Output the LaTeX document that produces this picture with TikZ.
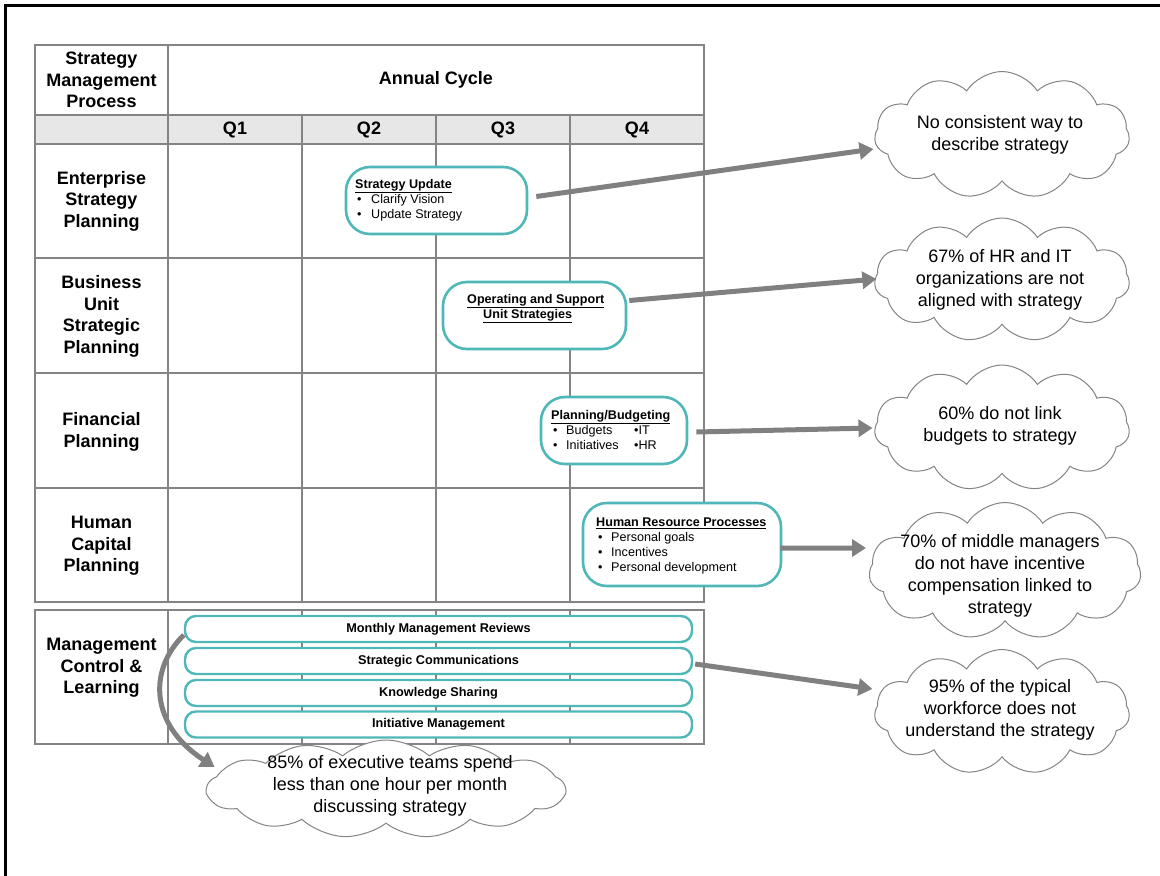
\documentclass[tikz,border=0pt]{standalone}
\usepackage{fontspec}
\setmainfont{Liberation Sans}
\usetikzlibrary{shapes.symbols,arrows.meta,calc}
\definecolor{rulegray}{RGB}{132,132,132}
\definecolor{bandgray}{RGB}{231,231,231}
\definecolor{boxteal}{RGB}{80,183,185}
\definecolor{arrowgray}{RGB}{128,128,128}
\begin{document}
\begin{tikzpicture}[x=1pt,y=-1pt,
  grid/.style={draw=rulegray,line width=1.6pt},
  thickgrid/.style={draw=rulegray,line width=2.6pt},
  hdr/.style={font=\fontsize{18}{21.5}\selectfont\bfseries,align=center,inner sep=0pt},
  phase/.style={draw=boxteal,line width=2.6pt,fill=white,rounded corners=24pt,inner sep=0pt},
  phasetext/.style={font=\fontsize{12.6}{15}\selectfont,align=left,inner sep=0pt},
  bar/.style={draw=boxteal,line width=2.4pt,fill=white,rounded corners=11pt,minimum width=507pt,minimum height=26pt,inner sep=0pt,font=\fontsize{12.7}{15}\selectfont\bfseries},
  cloudbox/.style={cloud,cloud puffs=11,cloud puff arc=115,cloud ignores aspect,draw=rulegray,line width=1pt,fill=white,inner sep=0pt},
  cloudtext/.style={font=\fontsize{18}{21.8}\selectfont,align=center,inner sep=0pt},
  bigarrow/.style={draw=arrowgray,line width=5pt,-{Triangle[length=14pt,width=17pt]}}
]
\useasboundingbox (0,0) rectangle (1160,876);

% page frame
\draw[line width=3pt] (5.5,876) -- (5.5,5.5) -- (1160,5.5);

% ---- planning grid ----
\fill[bandgray] (35,115) rectangle (704,144);
\draw[grid] (35,45) rectangle (704,602);
\foreach \yy in {144,258,373,488} \draw[grid] (35,\yy) -- (704,\yy);
\draw[thickgrid] (35,115) -- (704,115);
\foreach \xx in {302,436,570} \draw[grid] (\xx,115) -- (\xx,602);
\draw[thickgrid] (168,45) -- (168,602);

% management control block
\draw[grid] (35,610) rectangle (704,744);
\foreach \xx in {302,436,570} \draw[grid] (\xx,610) -- (\xx,744);
\draw[thickgrid] (168,610) -- (168,744);

% header texts
\node[hdr] (smp) at (101.5,80) {Strategy\\Management\\Process};
\node[hdr] (annual) at (436,80) {Annual Cycle};
\node[hdr] (q1) at (235,130) {Q1};
\node[hdr] (q2) at (369,130) {Q2};
\node[hdr] (q3) at (503,130) {Q3};
\node[hdr] (q4) at (637,130) {Q4};

% row labels
\node[hdr] (esp) at (101.5,201) {Enterprise\\Strategy\\Planning};
\node[hdr] (busp) at (101.5,316.5) {Business\\Unit\\Strategic\\Planning};
\node[hdr] (fp) at (101.5,432) {Financial\\Planning};
\node[hdr] (hcp) at (101.5,546) {Human\\Capital\\Planning};
\node[hdr] (mcl) at (101.5,668) {Management\\Control \&\\Learning};

% phase boxes
\node[phase,minimum width=181pt,minimum height=67pt] (su) at (436.5,200.5) {};
\node[phasetext,anchor=west] (sutext) at (355,200)
  {\underline{\textbf{Strategy Update}}\\
   \hspace*{2pt}\makebox[14pt][l]{•}Clarify Vision\\
   \hspace*{2pt}\makebox[14pt][l]{•}Update Strategy};

\node[phase,minimum width=183pt,minimum height=67pt] (os) at (534.5,315.5) {};
\node[phasetext,anchor=west,font=\fontsize{12.6}{15}\selectfont\bfseries] (ostext) at (467,308.5)
  {\underline{Operating and Support}\\
   \hspace*{16pt}\underline{Unit Strategies}};

\node[phase,minimum width=146pt,minimum height=67pt] (pb) at (614,430.5) {};
\node[phasetext,anchor=west] (pbtext) at (551,430)
  {\underline{\textbf{Planning/Budgeting}}\\
   \hspace*{2pt}\makebox[13pt][l]{•}\makebox[68pt][l]{Budgets}•IT\\
   \hspace*{2pt}\makebox[13pt][l]{•}\makebox[68pt][l]{Initiatives}•HR};

\node[phase,minimum width=198pt,minimum height=83pt] (hr) at (682,544.5) {};
\node[phasetext,anchor=west] (hrtext) at (596,546)
  {\underline{\textbf{Human Resource Processes}}\\
   \hspace*{2pt}\makebox[13pt][l]{•}Personal goals\\
   \hspace*{2pt}\makebox[13pt][l]{•}Incentives\\
   \hspace*{2pt}\makebox[13pt][l]{•}Personal development};

% management bars
\node[bar] (mmr) at (438.5,629) {Monthly Management Reviews};
\node[bar] (sc) at (438.5,661) {Strategic Communications};
\node[bar] (ks) at (438.5,693) {Knowledge Sharing};
\node[bar] (im) at (438.5,724.5) {Initiative Management};

% observation clouds
\node[cloudbox,minimum width=255pt,minimum height=127pt] (c1) at (1002,135) {};
\node[cloudtext] (t1) at (1000,135) {No consistent way to\\describe strategy};
\node[cloudbox,minimum width=255pt,minimum height=124pt] (c2) at (1002,280) {};
\node[cloudtext] (t2) at (1000,280) {67\% of HR and IT\\organizations are not\\aligned with strategy};
\node[cloudbox,minimum width=255pt,minimum height=126pt] (c3) at (1002,428) {};
\node[cloudtext] (t3) at (1000,425.5) {60\% do not link\\budgets to strategy};
\node[cloudbox,minimum width=272pt,minimum height=137pt] (c4) at (1005,571) {};
\node[cloudtext] (t4) at (1000,576) {70\% of middle managers\\do not have incentive\\compensation linked to\\strategy};
\node[cloudbox,minimum width=255pt,minimum height=125pt] (c5) at (1002,712) {};
\node[cloudtext] (t5) at (1000,710) {95\% of the typical\\workforce does not\\understand the strategy};
\node[cloudbox,cloud puffs=13,cloud puff arc=80,minimum width=358pt,minimum height=98pt] (c6) at (386,789) {};
\node[cloudtext] (t6) at (390,786) {85\% of executive teams spend\\less than one hour per month\\discussing strategy};

% connectors
\draw[bigarrow] ([xshift=8pt,yshift=4pt]su.east) -- ([xshift=-1pt,yshift=-14pt]c1.west);
\draw[bigarrow] ([xshift=2pt,yshift=15pt]os.east) -- ([xshift=2pt,yshift=1pt]c2.west);
\draw[bigarrow] ([xshift=8pt,yshift=-1.5pt]pb.east) -- ([xshift=-2pt,yshift=0pt]c3.west);
\draw[bigarrow] ([xshift=-2pt,yshift=-3.5pt]hr.east) -- ([xshift=-3pt,yshift=23pt]c4.west);
\draw[bigarrow] ([xshift=2pt,yshift=-3pt]sc.east) -- ([xshift=-2pt,yshift=23pt]c5.west);
\draw[bigarrow] ([yshift=-6pt]mmr.west) .. controls (148,670) and (150,725) .. ($(c6.west)+(9,-22)$);
\end{tikzpicture}
\end{document}
